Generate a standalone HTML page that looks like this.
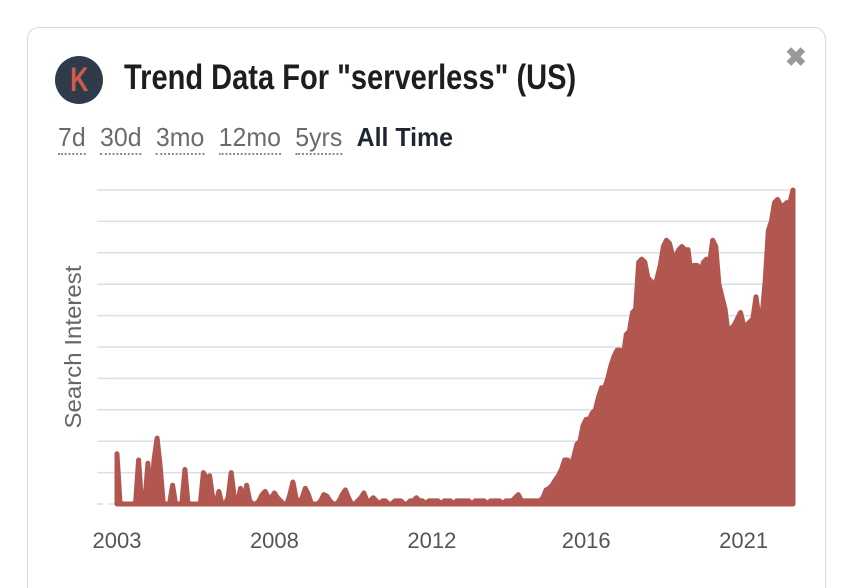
<!DOCTYPE html>
<html><head><meta charset="utf-8">
<style>
html,body{margin:0;width:866px;height:588px;overflow:hidden}
body{background:#fff;font-family:"Liberation Sans",sans-serif;position:relative}
.card{position:absolute;left:27px;top:27px;width:797px;height:580px;border:1.5px solid #d9d9d9;border-radius:12px;background:#fff}
.logo{position:absolute;left:55px;top:56px;width:48px;height:48px;border-radius:50%;background:#2e3b4b;color:#d05a4c;font-size:34px;font-weight:bold;text-align:center;line-height:48px;transform-origin:center}
.logo span{display:inline-block;transform:scaleX(0.75)}
.title{position:absolute;left:124px;top:58px;font-size:35px;font-weight:bold;color:#1e1e1e;white-space:nowrap;transform:scaleX(0.83);transform-origin:left top}
.close{position:absolute;left:785px;top:42px;font-size:26px;color:#999;font-weight:bold}
.ranges{position:absolute;left:58px;top:122px;font-size:26px;color:#6b6b6b;white-space:nowrap;transform:scaleX(0.957);transform-origin:left top}
.ranges span{margin-right:15px;border-bottom:2px dotted #888;padding-bottom:1px}
.ranges span.active{border:none;color:#1e2533;font-weight:bold}
svg{position:absolute;left:0;top:0}
</style></head><body>
<div class="card"></div>
<div class="logo"><span>K</span></div>
<div class="title">Trend Data For "serverless" (US)</div>
<div class="close">✖</div>
<div class="ranges"><span>7d</span><span>30d</span><span>3mo</span><span>12mo</span><span>5yrs</span><span class="active">All Time</span></div>
<svg id="chart" width="866" height="588"></svg>
<script>
const values=[16,0,0,0,0,0,0,14,0,0,13,0,14,21,12,0,0,0,6,0,0,0,11,0,0,0,0,0,10,8,9,2,0,4,0,0,2,10,2,0,5,1,6,1,0,0,1,3,4,2,2,3.5,2,1,0,0,3,7,2,0,2,5,3,0,0,0,1,3,2.5,1,0,0,1,3,4.5,2,0,0,1,2,3.5,1,1,2,1,0,1,1,0,0,1,1,1,0,0,1,1,2,1,1,0,1,1,1,1,0,1,1,1,0,1,1,1,1,1,0,1,1,1,1,0,1,1,1,1,0,1,1,1,2,3,1,1,1,1,1,1,1,2,4.5,5,6,7.6,9,11,14,14,12,15,19,20,25,27,27,29,30,34,37,37,40,44,47,49,49,47,54,55,61,62,77,78,77,72,71,69,72,76,82,84,83,79,79,81,82,81,81,73,76,76,74,77,78,77,84,82,70,66,62,54,56,57,59,61,57,57,58,59,66,59,60,71,87,90,96,97,95,95,96,96,100];
const tickLabels=["2003","2008","2012","2016","2021"];
const tickIndex=[0,51,102,152,203];
const yTicks=[0,10,20,30,40,50,60,70,80,90,100];
const NS="http://www.w3.org/2000/svg";
const svg=document.getElementById('chart');
const X0=117,X1=793,Y0=504,Y1=190,GL=97;
const x=i=>X0+i*(X1-X0)/(values.length-1);
const y=v=>Y0-(v/100)*(Y0-Y1);
function mk(t,a){const e=document.createElementNS(NS,t);for(const k in a)e.setAttribute(k,a[k]);svg.appendChild(e);return e;}
yTicks.forEach(t=>{
  const l=mk('line',{x1:GL,x2:X1,y1:y(t),y2:y(t),stroke:'#d8dfea','stroke-width':1.5});
  if(t===0)l.setAttribute('stroke-dasharray','6 6');
  
  
});
let d=`M${x(0)},${Y0}`;
values.forEach((v,i)=>{d+=` L${x(i).toFixed(1)},${y(v).toFixed(1)}`;});
d+=` L${x(values.length-1)},${Y0} Z`;
const area=mk('path',{d:d,fill:'#b15750',stroke:'#b15750','stroke-width':5,'stroke-linejoin':'round'});


tickLabels.forEach((lab,k)=>{
  const t=mk('text',{x:x(tickIndex[k]),y:548,'text-anchor':'middle','font-size':22,fill:'#555','font-family':'Liberation Sans, sans-serif'});
  t.textContent=lab;
  
  
});
const yt=mk('text',{x:0,y:0,transform:'translate(81,347) rotate(-90)','text-anchor':'middle','font-size':23,fill:'#666','font-family':'Liberation Sans, sans-serif',textLength:163,lengthAdjust:'spacingAndGlyphs'});
yt.textContent='Search Interest';


</script>
</body></html>
